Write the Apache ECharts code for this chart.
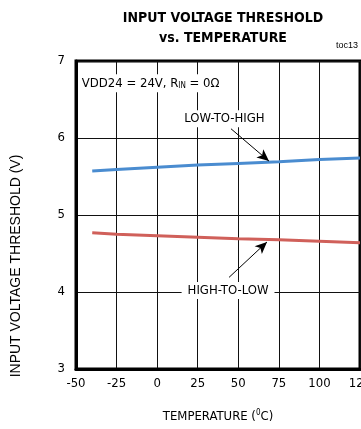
<!DOCTYPE html>
<html>
<head>
<meta charset="utf-8">
<script src="https://cdn.jsdelivr.net/npm/echarts@6/dist/echarts.min.js"></script>
<style>
  html, body { margin: 0; padding: 0; background: #fff; }
  #chart { width: 361px; height: 429px; }
</style>
</head>
<body>
<div id="chart"></div>
<script>
// temperatures (degC) and thresholds (V)
var temps = [-40, -25, 0, 25, 50, 75, 100, 125];
var lowToHigh = [5.57, 5.59, 5.62, 5.65, 5.67, 5.69, 5.72, 5.74];
var highToLow = [4.77, 4.75, 4.73, 4.71, 4.69, 4.68, 4.66, 4.64];
var xTicks = [-50, -25, 0, 25, 50, 75, 100, 125];
var yTicks = [3, 4, 5, 6, 7];

var font = "'Liberation Sans Narrow', 'DejaVu Sans Condensed', 'Liberation Sans', sans-serif";
var plain = "'Liberation Sans', Arial, sans-serif";

function pairs(xs, ys) {
    return xs.map(function (x, i) { return [x, ys[i]]; });
}

var chart = echarts.init(document.getElementById('chart'));
chart.setOption({
    animation: false,
    title: {
        text: 'INPUT VOLTAGE THRESHOLD\nvs. TEMPERATURE',
        left: 218,
        top: 3,
        textAlign: 'center',
        textStyle: {
            fontFamily: font,
            fontSize: 14,
            fontWeight: 'bold',
            lineHeight: 20,
            color: '#000'
        }
    },
    graphic: [
        {
            type: 'text',
            right: 3,
            top: 41,
            style: { text: 'toc13', font: '9px ' + plain, fill: '#000' }
        }
    ],
    grid: {
        left: 76,
        right: 1,
        top: 61,
        bottom: 60,
        outerBoundsMode: 'none',
        show: true,
        borderColor: '#000',
        borderWidth: 3
    },
    xAxis: {
        type: 'value',
        min: xTicks[0],
        max: xTicks[xTicks.length - 1],
        interval: 25,
        name: 'TEMPERATURE ({sup|0}C)',
        nameLocation: 'middle',
        nameGap: 40,
        nameTextStyle: {
            fontFamily: font,
            fontSize: 13,
            color: '#000',
            rich: {
                sup: { fontSize: 8, fontFamily: font, color: '#000', padding: [0, 0, 7, 0] }
            }
        },
        axisLine: { onZero: false, lineStyle: { color: '#000', width: 3 } },
        axisTick: { show: false },
        axisLabel: { fontFamily: font, fontSize: 13, color: '#000', margin: 8 },
        splitLine: { lineStyle: { color: '#111', width: 1 } }
    },
    yAxis: {
        type: 'value',
        min: yTicks[0],
        max: yTicks[yTicks.length - 1],
        interval: 1,
        name: 'INPUT VOLTAGE THRESHOLD (V)',
        nameLocation: 'middle',
        nameGap: 53,
        nameTextStyle: { fontFamily: plain, fontSize: 14, color: '#000', padding: [0, 102, 0, 0] },
        axisLine: { onZero: false, lineStyle: { color: '#000', width: 3 } },
        axisTick: { show: false },
        axisLabel: { fontFamily: font, fontSize: 13, color: '#000', margin: 11 },
        splitLine: { lineStyle: { color: '#111', width: 1 } }
    },
    series: [
        {
            name: 'LOW-TO-HIGH',
            type: 'line',
            data: pairs(temps, lowToHigh),
            showSymbol: false,
            lineStyle: { color: '#4a8cd0', width: 3 },
            z: 3,
            markLine: {
                silent: true,
                symbol: ['none', 'arrow'],
                symbolSize: [8, 12],
                lineStyle: { color: '#000', width: 1, type: 'solid' },
                label: { show: false },
                data: [[{ coord: [45.5, 6.12] }, { coord: [68.9, 5.70] }]]
            },
            markPoint: {
                silent: true,
                symbol: 'rect',
                symbolSize: 0,
                label: {
                    show: true,
                    position: 'inside',
                    fontFamily: font,
                    fontSize: 13,
                    color: '#000',
                    backgroundColor: '#fff',
                    padding: [2, 3],
                    rich: {
                        sub: { fontFamily: font, fontSize: 8, color: '#000', padding: [6, 0, 0, 0] }
                    }
                },
                data: [
                    { coord: [41.5, 6.25], label: { formatter: 'LOW-TO-HIGH' } },
                    { coord: [-4, 6.71], label: { formatter: 'VDD24 = 24V, R{sub|IN} = 0Ω' } },
                    { coord: [43.7, 4.02], label: { formatter: 'HIGH-TO-LOW', padding: [2, 6] } }
                ]
            }
        },
        {
            name: 'HIGH-TO-LOW',
            type: 'line',
            data: pairs(temps, highToLow),
            showSymbol: false,
            lineStyle: { color: '#d0605a', width: 3 },
            z: 3,
            markLine: {
                silent: true,
                symbol: ['none', 'arrow'],
                symbolSize: [8, 12],
                lineStyle: { color: '#000', width: 1, type: 'solid' },
                label: { show: false },
                data: [[{ coord: [44.3, 4.19] }, { coord: [67.7, 4.65] }]]
            }
        }
    ]
});
</script>
</body>
</html>
